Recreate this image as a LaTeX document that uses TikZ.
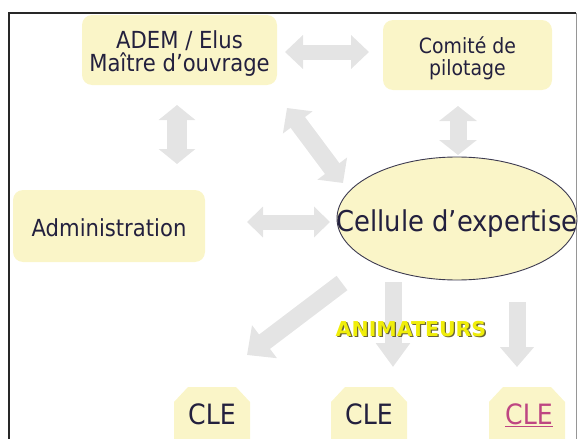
\documentclass[tikz,border=0pt]{standalone}
\usepackage{fontspec}
\setmainfont{DejaVu Sans}[FakeStretch=0.9]
\newfontfamily\animfont{DejaVu Sans}
\usetikzlibrary{arrows.meta,shapes.geometric}

\definecolor{boxfill}{RGB}{250,245,200}
\definecolor{inkcol}{RGB}{35,32,62}
\definecolor{arrowgray}{RGB}{228,228,228}
\definecolor{ellborder}{RGB}{60,58,80}
\definecolor{animyellow}{RGB}{240,238,10}
\definecolor{animshadow}{RGB}{105,100,55}
\definecolor{linkpink}{RGB}{190,70,130}
\definecolor{framedark}{RGB}{40,40,40}
\definecolor{framegray}{RGB}{150,150,150}

\tikzset{
  box/.style={fill=boxfill, rounded corners=10pt, inner sep=0pt},
  boxtext/.style={text=inkcol, align=center, inner sep=0pt},
  celltxt/.style={text=inkcol, inner sep=0pt, text height=20pt, text depth=0pt,
    font=\fontsize{28}{28}\selectfont},
  fatdbl/.style n args={3}{draw=arrowgray, line width=#1,
    arrows={Triangle[width=#2,length=#3]-Triangle[width=#2,length=#3]}},
  fatone/.style n args={3}{draw=arrowgray, line width=#1,
    arrows={-Triangle[width=#2,length=#3]}},
}

\begin{document}
\begin{tikzpicture}[x=1pt,y=-1pt]
\useasboundingbox (0,0) rectangle (579,439);
\clip (0,0) rectangle (579,439);

% slide frame
\draw[framedark, line width=1.2pt] (9,445) -- (9,13) -- (576,13);
\draw[framegray, line width=1pt] (576,13) -- (576,445);

% arrow end points
\coordinate (ac1) at (285,52);  \coordinate (ac2) at (369,52);
\coordinate (aa1) at (177,105); \coordinate (aa2) at (177,164);
\coordinate (ae1) at (287,108); \coordinate (ae2) at (343,183);
\coordinate (ce1) at (458,106); \coordinate (ce2) at (458,155);
\coordinate (ad1) at (247,222); \coordinate (ad2) at (330,222);
\coordinate (k1a) at (342,283); \coordinate (k1b) at (247,355);
\coordinate (k2a) at (393,282); \coordinate (k2b) at (393,367);
\coordinate (k3a) at (517,302); \coordinate (k3b) at (517,367);

% arrows (behind everything else)
\draw[fatdbl={15pt}{33pt}{18pt}] (ac1) -- (ac2);
\draw[fatdbl={20pt}{36pt}{15pt}] (aa1) -- (aa2);
\draw[fatdbl={18pt}{36pt}{18pt}] (ae1) -- (ae2);
\draw[fatdbl={17pt}{37pt}{15pt}] (ce1) -- (ce2);
\draw[fatdbl={15pt}{30pt}{16pt}] (ad1) -- (ad2);
\draw[fatone={18pt}{40pt}{22pt}] (k1a) -- (k1b);
\draw[fatone={17pt}{33pt}{24pt}] (k2a) -- (k2b);
\draw[fatone={17pt}{33pt}{20pt}] (k3a) -- (k3b);

% boxes
\node[box, minimum width=195pt, minimum height=70pt] (adem) at (179.5,50) {};
\node[boxtext, font=\fontsize{23.5}{23}\selectfont] (ademtxt)
  at ([yshift=-4pt]adem.center) {ADEM / Elus\\Maître d’ouvrage};
\node[box, minimum width=169pt, minimum height=70pt] (comite) at (467.5,55) {};
\node[boxtext, font=\fontsize{21}{22}\selectfont] (comitetxt)
  at ([yshift=-3pt]comite.center) {Comité de\\pilotage};
\node[box, minimum width=192pt, minimum height=72pt] (admin) at (109,226) {};
\node[boxtext, font=\fontsize{23.5}{23}\selectfont] (admintxt)
  at ([yshift=-1.5pt]admin.center) {Administration};

% central cell
\node[ellipse, draw=ellborder, line width=0.9pt, fill=boxfill,
      minimum width=240pt, minimum height=123pt, inner sep=0pt] (cell) at (457,218.5) {};
\node[text=inkcol, inner sep=0pt, anchor=base, font=\fontsize{28.7}{28.7}\selectfont]
  (celltxt) at ([yshift=-13pt]cell.center) {Cellule d’expertise};

% CLE plates (chamfered, running off the bottom edge)
\foreach \cx in {212,369,527}
  \fill[boxfill] (\cx-38,402) -- (\cx-24,387) -- (\cx+24,387) -- (\cx+38,402)
    -- (\cx+38,460) -- (\cx-38,460) -- cycle;
\node[celltxt] (cle1) at (212,414) {CLE};
\node[celltxt] (cle2) at (369,414) {CLE};
\node[celltxt, text=linkpink] (cle3) at (529,414) {\underline{CLE}};

% label
\node[font=\animfont\bfseries\fontsize{20.5}{20.5}\selectfont, text=animshadow]
  (animback) at (412.3,330.3) {ANIMATEURS};
\node[font=\animfont\bfseries\fontsize{20.5}{20.5}\selectfont, text=animyellow]
  (anim) at (411,329) {ANIMATEURS};
\end{tikzpicture}
\end{document}
